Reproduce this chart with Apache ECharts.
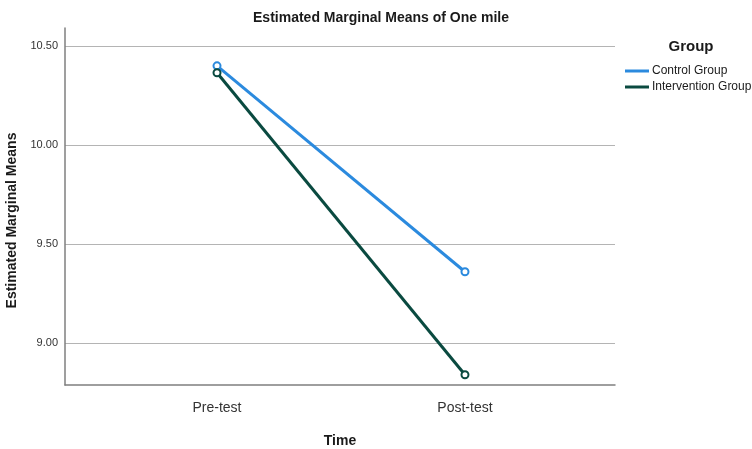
<!DOCTYPE html>
<html>
<head>
<meta charset="utf-8">
<script src="https://cdn.jsdelivr.net/npm/echarts@6/dist/echarts.min.js"></script>
<style>
html, body { margin: 0; padding: 0; background: #fff; }
#main { width: 752px; height: 449px; }
</style>
</head>
<body>
<div id="main"></div>
<script>
var categories = ['Pre-test', 'Post-test'];
var controlMeans = [10.40, 9.36];
var interventionMeans = [10.365, 8.84];
var yTicks = [9.00, 9.50, 10.00, 10.50];

var myChart = echarts.init(document.getElementById('main'));

function toPoints(arr) {
    var out = [];
    for (var i = 0; i < arr.length; i++) {
        out.push([i, arr[i]]);
    }
    return out;
}

var fontFam = 'Arial, "Liberation Sans", sans-serif';

option = {
    animation: false,
    title: [{
        text: 'Estimated Marginal Means of One mile',
        left: 376,
        textAlign: 'center',
        top: 6,
        textStyle: { fontFamily: fontFam, fontSize: 14, fontWeight: 'bold', color: '#1a1a1a' }
    }, {
        text: 'Group',
        left: 686,
        textAlign: 'center',
        top: 34,
        textStyle: { fontFamily: fontFam, fontSize: 15, fontWeight: 'bold', color: '#1a1a1a' }
    }],
    legend: {
        orient: 'vertical',
        left: 620,
        top: 60,
        itemWidth: 24,
        itemHeight: 3,
        itemGap: 4,
        icon: 'rect',
        textStyle: { fontFamily: fontFam, fontSize: 12, color: '#1a1a1a', padding: [0, 0, 0, -2] },
        data: ['Control Group', 'Intervention Group']
    },
    grid: { left: 65, right: 137, top: 28, bottom: 64, containLabel: false, outerBoundsMode: 'none' },
    xAxis: {
        type: 'value',
        min: -0.613,
        max: 1.605,
        name: 'Time',
        nameLocation: 'middle',
        nameGap: 49,
        nameTextStyle: { fontFamily: fontFam, fontSize: 14, fontWeight: 'bold', color: '#1a1a1a' },
        axisLine: { show: true, onZero: false, lineStyle: { color: '#7f7f7f', width: 1.5 } },
        axisTick: { show: false, customValues: [0, 1] },
        splitLine: { show: false },
        axisLabel: {
            customValues: [0, 1],
            margin: 16,
            fontFamily: fontFam,
            fontSize: 14,
            color: '#333',
            formatter: function (v) { return categories[Math.round(v)]; }
        }
    },
    yAxis: {
        type: 'value',
        min: 8.788,
        max: 10.591,
        name: 'Estimated Marginal Means',
        nameLocation: 'middle',
        nameGap: 42,
        nameTextStyle: { fontFamily: fontFam, fontSize: 14, fontWeight: 'bold', color: '#1a1a1a', padding: [0, 28, 0, 0] },
        axisLine: { show: true, onZero: false, lineStyle: { color: '#7f7f7f', width: 1.5 } },
        axisTick: { show: false, customValues: yTicks },
        splitLine: { show: true, lineStyle: { color: '#b4b4b4', width: 1.2 } },
        axisLabel: {
            customValues: yTicks,
            margin: 7,
            fontFamily: fontFam,
            fontSize: 11,
            color: '#333',
            formatter: function (v) { return v.toFixed(2); }
        }
    },
    series: [{
        name: 'Control Group',
        type: 'line',
        data: toPoints(controlMeans),
        symbol: 'emptyCircle',
        symbolSize: 7,
        itemStyle: { color: '#2b8ade', borderWidth: 1.3 },
        lineStyle: { color: '#2b8ade', width: 3 },
        z: 2
    }, {
        name: 'Intervention Group',
        type: 'line',
        data: toPoints(interventionMeans),
        symbol: 'emptyCircle',
        symbolSize: 7,
        itemStyle: { color: '#0a4a40', borderWidth: 1.3 },
        lineStyle: { color: '#0a4a40', width: 3 },
        z: 3
    }]
};

myChart.setOption(option);
</script>
</body>
</html>
